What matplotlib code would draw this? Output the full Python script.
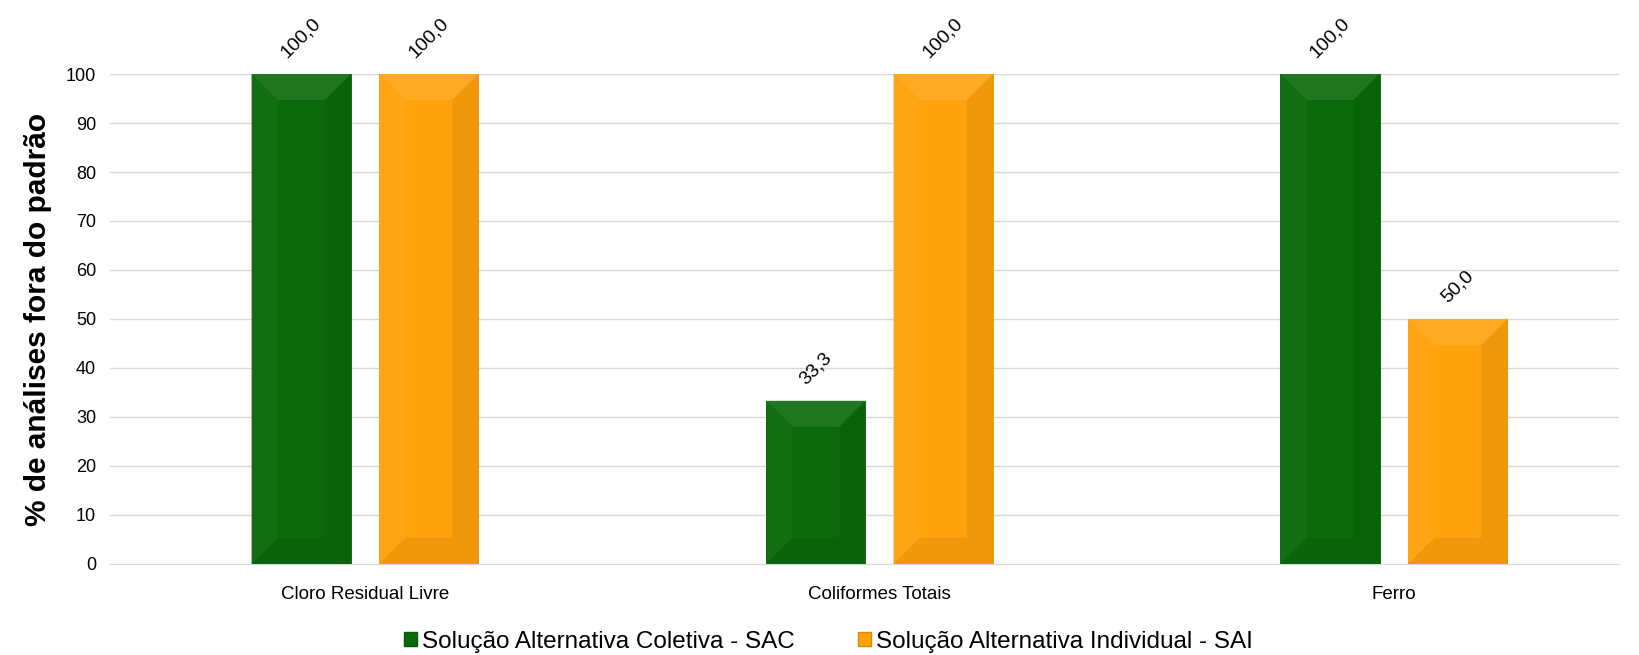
import numpy as np
import matplotlib.pyplot as plt
from matplotlib.patches import Polygon, Patch
import matplotlib.colors as mcolors

plt.rcParams['font.family'] = ['Liberation Sans', 'DejaVu Sans']

# data
categories = ['Cloro Residual Livre', 'Coliformes Totais', 'Ferro']
sac = [100.0, 33.3, 100.0]
sai = [100.0, 100.0, 50.0]
series_names = ['Solução Alternativa Coletiva - SAC', 'Solução Alternativa Individual - SAI']
colors = ['#0A6A0A', '#FFA20C']
yticks = np.arange(0, 101, 10)

fig = plt.figure(figsize=(16.4, 6.55), dpi=100)
ax = fig.add_axes([0.067, 0.139, 0.92, 0.748])

x = np.arange(len(categories))
w = 0.193
off = 0.124
xlim = (-0.496, 2.437)

def shade(c, f):
    r, g, b = mcolors.to_rgb(c)
    if f > 0:
        return (r + (1 - r) * f, g + (1 - g) * f, b + (1 - b) * f)
    return (r * (1 + f), g * (1 + f), b * (1 + f))

# bevel size in data units (about 26 px)
ax_w_px = 0.92 * 1640
ax_h_px = 0.748 * 655
dx = 26 / ax_w_px * (xlim[1] - xlim[0])
dy = 26 / ax_h_px * 100

for vals, col, sgn in [(sac, colors[0], -1), (sai, colors[1], 1)]:
    bars = ax.bar(x + sgn * off, vals, width=w, color=col, zorder=3,
                  edgecolor=shade(col, -0.12), linewidth=0.6)
    for b in bars:
        x0 = b.get_x(); x1 = x0 + b.get_width(); h = b.get_height()
        d = min(dy, h / 2)
        top = [(x0, h), (x1, h), (x1 - dx, h - d), (x0 + dx, h - d)]
        bot = [(x0, 0), (x1, 0), (x1 - dx, d), (x0 + dx, d)]
        left = [(x0, 0), (x0 + dx, d), (x0 + dx, h - d), (x0, h)]
        right = [(x1, 0), (x1 - dx, d), (x1 - dx, h - d), (x1, h)]
        for pts, f in [(top, 0.09), (bot, -0.06), (left, 0.03), (right, -0.06)]:
            ax.add_patch(Polygon(pts, closed=True, facecolor=shade(col, f),
                                 edgecolor='none', zorder=4))
        ax.annotate(f'{h:.1f}'.replace('.', ','), (b.get_x() + b.get_width() / 2, h),
                    xytext=(0, 9), textcoords='offset points', rotation=45,
                    ha='center', va='bottom', fontsize=14, annotation_clip=False)

ax.set_xlim(*xlim)
ax.set_ylim(0, 100)
ax.set_yticks(yticks)
ax.set_xticks(x)
ax.set_xticklabels(categories, fontsize=13.5)
ax.tick_params(axis='y', labelsize=13, length=0, pad=10)
ax.tick_params(axis='x', length=0, pad=16)
ax.yaxis.grid(True, color='#D9D9D9', linewidth=1, zorder=0)
ax.set_axisbelow(True)
for s in ['top', 'right', 'left']:
    ax.spines[s].set_visible(False)
ax.spines['bottom'].set_color('#D9D9D9')
ax.set_ylabel('% de análises fora do padrão', fontsize=21.5, fontweight='bold', labelpad=10)

handles = [Patch(facecolor=c, edgecolor=shade(c, -0.15)) for c in colors]
fig.legend(handles, series_names, loc='lower center', ncol=2, frameon=False,
           fontsize=17.5, bbox_to_anchor=(0.505, -0.03), handlelength=0.55,
           handleheight=0.55, handletextpad=0.2, columnspacing=2.6)

fig.savefig('out.png', dpi=100)
